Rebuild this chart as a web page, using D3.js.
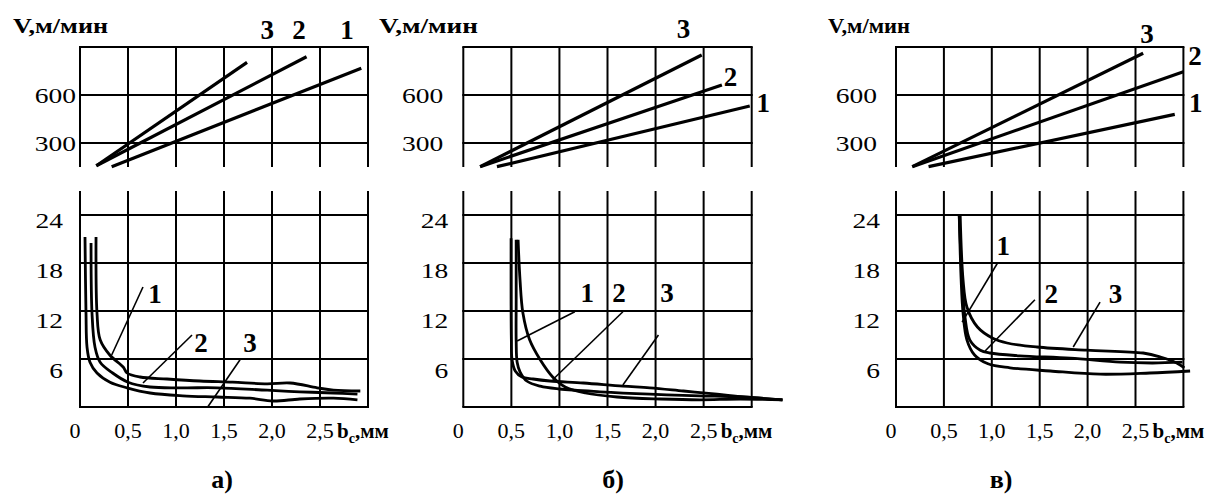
<!DOCTYPE html>
<html>
<head>
<meta charset="utf-8">
<script src="https://cdn.jsdelivr.net/npm/d3@7"></script>
<style>
  html, body { margin: 0; padding: 0; background: #fff; }
  svg { display: block; }
  text { font-family: "Liberation Serif", "Times New Roman", serif; fill: #000; }
</style>
</head>
<body>
<div id="chart"></div>
<script>
// Valores: b_c en mm, V en m/min
const xTicks = [0, 0.5, 1.0, 1.5, 2.0, 2.5];
const xTickLabels = ["0", "0,5", "1,0", "1,5", "2,0", "2,5"];
const vTicks = [300, 600];
const tTicks = [6, 12, 18, 24];
const panelNames = ["а)", "б)", "в)"];
const seriesNames = ["1", "2", "3"];

// gráficos de arriba: rectas V(b_c), [inicio, fin]
const speedA1 = [[0.33, 152], [2.93, 767]];
const speedA2 = [[0.17, 158], [2.36, 839]];
const speedA3 = [[0.17, 158], [1.74, 804]];
const speedB1 = [[0.35, 152], [2.98, 531]];
const speedB2 = [[0.175, 152], [2.69, 662]];
const speedB3 = [[0.175, 152], [2.48, 850]];
const speedC1 = [[0.34, 152], [2.91, 479]];
const speedC2 = [[0.17, 152], [3.0, 746]];
const speedC3 = [[0.17, 152], [2.58, 861]];

// gráficos de abajo: curvas
const wearA1 = [[0.167, 21.25], [0.177, 11.75], [0.21, 8.4], [0.31, 6.5], [0.45, 5.0], [0.49, 4.25], [0.625, 3.75], [0.906, 3.5], [1.25, 3.25], [1.59, 3.1], [1.95, 2.9], [2.19, 3.0], [2.47, 2.4], [2.64, 2.1], [2.92, 2.0]];
const wearA2 = [[0.115, 20.5], [0.125, 11.75], [0.156, 7.5], [0.21, 5.6], [0.34, 4.25], [0.5, 3.1], [0.73, 2.5], [1.07, 2.4], [1.43, 2.4], [1.95, 2.1], [2.29, 1.9], [2.64, 1.75], [2.89, 1.6]];
const wearA3 = [[0.052, 21.25], [0.0625, 11.75], [0.073, 7.5], [0.104, 5.6], [0.177, 4.25], [0.3125, 3.1], [0.49, 2.4], [0.73, 1.75], [1.07, 1.4], [1.43, 1.25], [1.77, 1.1], [2.01, 0.75], [2.29, 1.0], [2.64, 1.1], [2.89, 0.9]];
const wearB1 = [[0.55, 20.9], [0.55, 13.4], [0.55, 8.25], [0.56, 5.6], [0.59, 4.4], [0.66, 3.25], [0.8, 2.6], [1.0, 2.25], [1.42, 1.9], [1.94, 1.6], [2.46, 1.4], [2.88, 1.25], [3.32, 0.9]];
const wearB2 = [[0.57, 20.9], [0.59, 15.9], [0.62, 11.75], [0.69, 8.4], [0.8, 5.9], [0.93, 3.75], [1.06, 2.5], [1.27, 1.75], [1.6, 1.25], [2.05, 1.0], [2.46, 0.9], [2.88, 1.0], [3.32, 0.9]];
const wearB3 = [[0.497, 21.1], [0.497, 13.4], [0.5, 8.4], [0.507, 5.9], [0.54, 4.5], [0.61, 3.75], [0.725, 3.5], [0.9, 3.25], [1.25, 3.0], [1.66, 2.6], [1.94, 2.4], [2.29, 2.0], [2.64, 1.6], [2.93, 1.25], [3.32, 0.9]];
const wearC1 = [[0.66, 24], [0.68, 15.9], [0.70, 11.75], [0.74, 8.4], [0.82, 6.5], [0.96, 5.4], [1.19, 4.9], [1.61, 4.5], [2.13, 4.1], [2.65, 4.25], [3.07, 4.5]];
const wearC2 = [[0.66, 24], [0.69, 15.9], [0.72, 11.25], [0.77, 8.4], [0.88, 7.1], [0.98, 6.75], [1.29, 6.4], [1.82, 6.1], [2.34, 5.6], [2.68, 5.5], [2.99, 5.6]];
const wearC3 = [[0.67, 24], [0.70, 15.9], [0.74, 12.5], [0.85, 10], [1.01, 8.6], [1.16, 8.0], [1.47, 7.5], [1.99, 7.1], [2.58, 6.75], [2.76, 6.25], [2.93, 5.5], [3.01, 4.9]];

// números de las curvas y sus líneas de referencia (en unidades del gráfico)
const speedLabelsA = [[2.78, 950], [2.28, 950], [1.95, 950]];
const speedLabelsB = [[3.12, 494], [2.78, 656], [2.29, 956]];
const speedLabelsC = [[3.13, 494], [3.12, 787], [2.62, 925]];
const wearLabelsA = [[0.78, 13], [1.26, 6.9], [1.77, 6.9]];
const wearLabelsB = [[1.29, 13.1], [1.62, 13.1], [2.12, 13.1]];
const wearLabelsC = [[1.12, 19], [1.62, 13], [2.29, 13]];
const leadersA = [[[0.656, 15], [0.33, 6.5]], [[1.167, 9], [0.656, 3.0]], [[1.667, 5.9], [1.33, 0]]];
const leadersB = [[[1.16, 11.9], [0.56, 8.25]], [[1.66, 11.9], [0.93, 3.4]], [[2.03, 9.0], [1.66, 2.75]]];
const leadersC = [[[1.06, 18], [0.69, 10.6]], [[1.45, 13.4], [0.93, 7.0]], [[2.13, 13.1], [1.85, 7.5]]];

const panels = [
  { name: panelNames[0], speed: [speedA1, speedA2, speedA3], wear: [wearA1, wearA2, wearA3],
    speedLabels: speedLabelsA, wearLabels: wearLabelsA, leaders: leadersA,
    left: 80, width: 288, titleX: 13, titleLen: 95, topTickGap: 4, botTickGap: 17, captionX: 222 },
  { name: panelNames[1], speed: [speedB1, speedB2, speedB3], wear: [wearB1, wearB2, wearB3],
    speedLabels: speedLabelsB, wearLabels: wearLabelsB, leaders: leadersB,
    left: 463.3, width: 288.4, titleX: 379, titleLen: 99, topTickGap: 20, botTickGap: 15, captionX: 613 },
  { name: panelNames[2], speed: [speedC1, speedC2, speedC3], wear: [wearC1, wearC2, wearC3],
    speedLabels: speedLabelsC, wearLabels: wearLabelsC, leaders: leadersC,
    left: 896, width: 287.4, titleX: 828, titleLen: 82, topTickGap: 19, botTickGap: 16, captionX: 1001 }
];

const width = 1213, height = 499;
const svg = d3.select('#chart').append('svg')
  .attr('width', width)
  .attr('height', height);

const gridX = d3.range(0, 3.01, 0.5);

panels.forEach(p => {
  const g = svg.append('g');
  const x = d3.scaleLinear().domain([0, 3]).range([p.left, p.left + p.width]);
  const yTop = d3.scaleLinear().domain([150, 900]).range([167, 47]);
  const yBot = d3.scaleLinear().domain([0, 27]).range([407, 191]);

  // rejilla de arriba
  g.append('g').selectAll('line').data(gridX).join('line')
    .attr('x1', d => x(d)).attr('x2', d => x(d))
    .attr('y1', yTop(150)).attr('y2', yTop(900))
    .attr('stroke', '#000').attr('stroke-width', 2);
  g.append('g').selectAll('line').data([...vTicks, 900]).join('line')
    .attr('x1', x(0) - 1).attr('x2', x(3) + 1)
    .attr('y1', d => yTop(d)).attr('y2', d => yTop(d))
    .attr('stroke', '#000').attr('stroke-width', 2);

  // rejilla de abajo
  g.append('g').selectAll('line').data(gridX).join('line')
    .attr('x1', d => x(d)).attr('x2', d => x(d))
    .attr('y1', yBot(0)).attr('y2', yBot(27))
    .attr('stroke', '#000').attr('stroke-width', 2);
  g.append('g').selectAll('line').data([0, ...tTicks]).join('line')
    .attr('x1', x(0) - 1).attr('x2', x(3) + 1)
    .attr('y1', d => yBot(d)).attr('y2', d => yBot(d))
    .attr('stroke', '#000').attr('stroke-width', 2);

  // rectas V(b_c)
  const line = d3.line().x(d => x(d[0])).y(d => yTop(d[1]));
  g.append('g').selectAll('path').data(p.speed).join('path')
    .attr('d', line)
    .attr('fill', 'none').attr('stroke', '#000').attr('stroke-width', 3.2);

  // curvas de abajo
  const curve = d3.line().x(d => x(d[0])).y(d => yBot(d[1])).curve(d3.curveCatmullRom.alpha(0.5));
  g.append('g').selectAll('path').data(p.wear).join('path')
    .attr('d', curve)
    .attr('fill', 'none').attr('stroke', '#000').attr('stroke-width', 2.8)
    .attr('stroke-linejoin', 'round');

  // líneas de referencia
  g.append('g').selectAll('line').data(p.leaders).join('line')
    .attr('x1', d => x(d[0][0])).attr('y1', d => yBot(d[0][1]))
    .attr('x2', d => x(d[1][0])).attr('y2', d => yBot(d[1][1]))
    .attr('stroke', '#000').attr('stroke-width', 1.6);

  // números de curvas
  g.append('g').selectAll('text').data(p.speedLabels).join('text')
    .attr('x', d => x(d[0])).attr('y', d => yTop(d[1]))
    .attr('text-anchor', 'middle')
    .attr('font-size', 27).attr('font-weight', 'bold')
    .text((d, i) => seriesNames[i]);
  g.append('g').selectAll('text').data(p.wearLabels).join('text')
    .attr('x', d => x(d[0])).attr('y', d => yBot(d[1]))
    .attr('text-anchor', 'middle')
    .attr('font-size', 27).attr('font-weight', 'bold')
    .text((d, i) => seriesNames[i]);

  // marcas del eje vertical (letra algo ensanchada, como en el original)
  g.append('g').selectAll('text').data(vTicks).join('text')
    .attr('transform', d => `translate(${p.left - p.topTickGap},${yTop(d) + 7.5}) scale(1.25,1)`)
    .attr('text-anchor', 'end').attr('font-size', 22)
    .text(d => d);
  g.append('g').selectAll('text').data(tTicks).join('text')
    .attr('transform', d => `translate(${p.left - p.botTickGap},${yBot(d) + 13 + (24 - d) / 3}) scale(1.25,1)`)
    .attr('text-anchor', 'end').attr('font-size', 22)
    .text(d => d);

  // título del eje
  g.append('text')
    .attr('x', p.titleX).attr('y', 33)
    .attr('font-size', 20).attr('font-weight', 'bold')
    .attr('textLength', p.titleLen).attr('lengthAdjust', 'spacingAndGlyphs')
    .text('V,м/мин');

  // marcas del eje horizontal
  g.append('g').selectAll('text').data(xTicks).join('text')
    .attr('x', (d, i) => i === 0 ? x(d) - 5 : x(d))
    .attr('y', 438)
    .attr('text-anchor', 'middle').attr('font-size', 22)
    .text((d, i) => xTickLabels[i]);
  const unit = g.append('text')
    .attr('x', x(2.5) + 17).attr('y', 438)
    .attr('font-size', 21).attr('font-weight', 'bold');
  unit.append('tspan').text('b');
  unit.append('tspan').attr('font-size', 14).attr('dy', 5).text('c');
  unit.append('tspan').attr('dy', -5).text(',мм');

  // letra del panel
  g.append('text')
    .attr('x', p.captionX).attr('y', 488)
    .attr('text-anchor', 'middle')
    .attr('font-size', 26).attr('font-weight', 'bold')
    .text(p.name);
});
</script>
</body>
</html>
